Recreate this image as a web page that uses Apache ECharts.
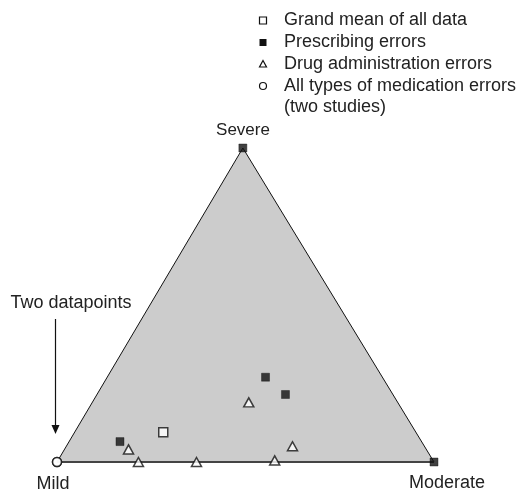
<!DOCTYPE html>
<html><head><meta charset="utf-8">
<script src="https://cdn.jsdelivr.net/npm/echarts@6/dist/echarts.min.js"></script>
<style>html,body{margin:0;padding:0;background:#fff}#c{width:525px;height:491px}</style>
</head><body><div id="c"></div>
<script>
// Ternary compositions, each as [mild, moderate, severe] in %
const vertexNames = ['Mild', 'Moderate', 'Severe'];
const vertices = [[100, 0, 0], [0, 100, 0], [0, 0, 100]];
const grandMean = [[67, 23.5, 9.5]];
const prescribing = [[80, 13.5, 6.5], [31, 42, 27], [28.5, 50, 21.5], [0, 0, 100], [0, 100, 0]];
const drugAdmin = [[79, 17, 4], [78.4, 21.6, 0], [63, 37, 0], [42, 57.5, 0.5], [35, 60, 5], [39.5, 41.5, 19]];
const allTypes = [[100, 0, 0], [100, 0, 0]];
const seriesNames = ['Grand mean of all data', 'Prescribing errors', 'Drug administration errors', 'All types of medication errors'];
const allTypesNote = '(two studies)';
const annotation = 'Two datapoints';

const APEX = 0.493; // horizontal position of the apex along the base
const toXY = v => [v[1] + v[2] * APEX, v[2]];
const FONT = '"Liberation Sans", Arial, Helvetica, sans-serif';
const FS = 18;
const TXT = '#222';
const font = s => s + 'px ' + FONT;

const chart = echarts.init(document.getElementById('c'));
const markerBorder = { borderColor: '#111', borderWidth: 1.5 };

// legend drawn as graphic elements
const LX = 263, TX = 284, LY = [20.5, 42.5, 64, 86, 107.5];
const legendIcons = [
  { type: 'rect', shape: { x: LX - 3.5, y: LY[0] - 3.5, width: 7, height: 7 }, style: { fill: '#fff', stroke: '#111', lineWidth: 1.2 } },
  { type: 'rect', shape: { x: LX - 3.5, y: LY[1] - 3.5, width: 7, height: 7 }, style: { fill: '#111' } },
  { type: 'polygon', shape: { points: [[LX, LY[2] - 3.5], [LX + 3.5, LY[2] + 3], [LX - 3.5, LY[2] + 3]] }, style: { fill: '#fff', stroke: '#111', lineWidth: 1.2 } },
  { type: 'circle', shape: { cx: LX, cy: LY[3], r: 3.5 }, style: { fill: '#fff', stroke: '#111', lineWidth: 1.2 } }
];
const legendTexts = seriesNames.concat([allTypesNote]).map((t, i) => ({
  type: 'text', x: TX, y: LY[i], style: { text: t, font: font(FS), fill: TXT, align: 'left', verticalAlign: 'middle' }
}));

chart.setOption({
  animation: false,
  grid: { left: 57, top: 148, width: 377, height: 314 },
  xAxis: { type: 'value', min: 0, max: 100, show: false },
  yAxis: { type: 'value', min: 0, max: 100, show: false },
  series: [
    {
      type: 'custom', coordinateSystem: 'cartesian2d', silent: true, z: 1,
      data: [[0, 0]],
      renderItem: function (params, api) {
        const pts = vertices.map(v => api.coord(toXY(v)));
        return {
          type: 'group', children: [
            { type: 'polygon', shape: { points: pts }, style: { fill: '#cccccc', stroke: '#111', lineWidth: 1 } },
            { type: 'line', shape: { x1: pts[0][0], y1: pts[0][1], x2: pts[1][0], y2: pts[1][1] }, style: { stroke: '#444', lineWidth: 2 } }
          ]
        };
      }
    },
    {
      name: seriesNames[0], type: 'scatter', z: 5, symbol: 'rect', symbolSize: 9,
      itemStyle: Object.assign({ color: '#fff' }, markerBorder),
      data: grandMean.map(toXY)
    },
    {
      name: seriesNames[1], type: 'scatter', z: 5, symbol: 'rect', symbolSize: 8,
      itemStyle: { color: '#111', borderColor: '#111', borderWidth: 0.5 },
      data: prescribing.map(toXY)
    },
    {
      name: seriesNames[2], type: 'scatter', z: 6, symbol: 'triangle', symbolSize: [10, 9],
      itemStyle: Object.assign({ color: '#fff' }, markerBorder),
      data: drugAdmin.map(toXY)
    },
    {
      name: seriesNames[3], type: 'scatter', z: 5, symbol: 'circle', symbolSize: 9,
      itemStyle: Object.assign({ color: '#fff' }, markerBorder),
      data: allTypes.map(toXY)
    }
  ],
  graphic: legendIcons.concat(legendTexts).concat([
    { type: 'text', x: 243, y: 130, style: { text: vertexNames[2], font: font(17), fill: TXT, align: 'center', verticalAlign: 'middle' } },
    { type: 'text', x: 53, y: 484, style: { text: vertexNames[0], font: font(FS), fill: TXT, align: 'center', verticalAlign: 'middle' } },
    { type: 'text', x: 447, y: 483, style: { text: vertexNames[1], font: font(FS), fill: TXT, align: 'center', verticalAlign: 'middle' } },
    { type: 'text', x: 71, y: 303, style: { text: annotation, font: font(FS), fill: TXT, align: 'center', verticalAlign: 'middle' } },
    { type: 'line', shape: { x1: 55.5, y1: 319, x2: 55.5, y2: 427 }, style: { stroke: '#111', lineWidth: 1.2 } },
    { type: 'polygon', shape: { points: [[51.5, 425], [59.5, 425], [55.5, 434]] }, style: { fill: '#111' } }
  ])
});
</script></body></html>
